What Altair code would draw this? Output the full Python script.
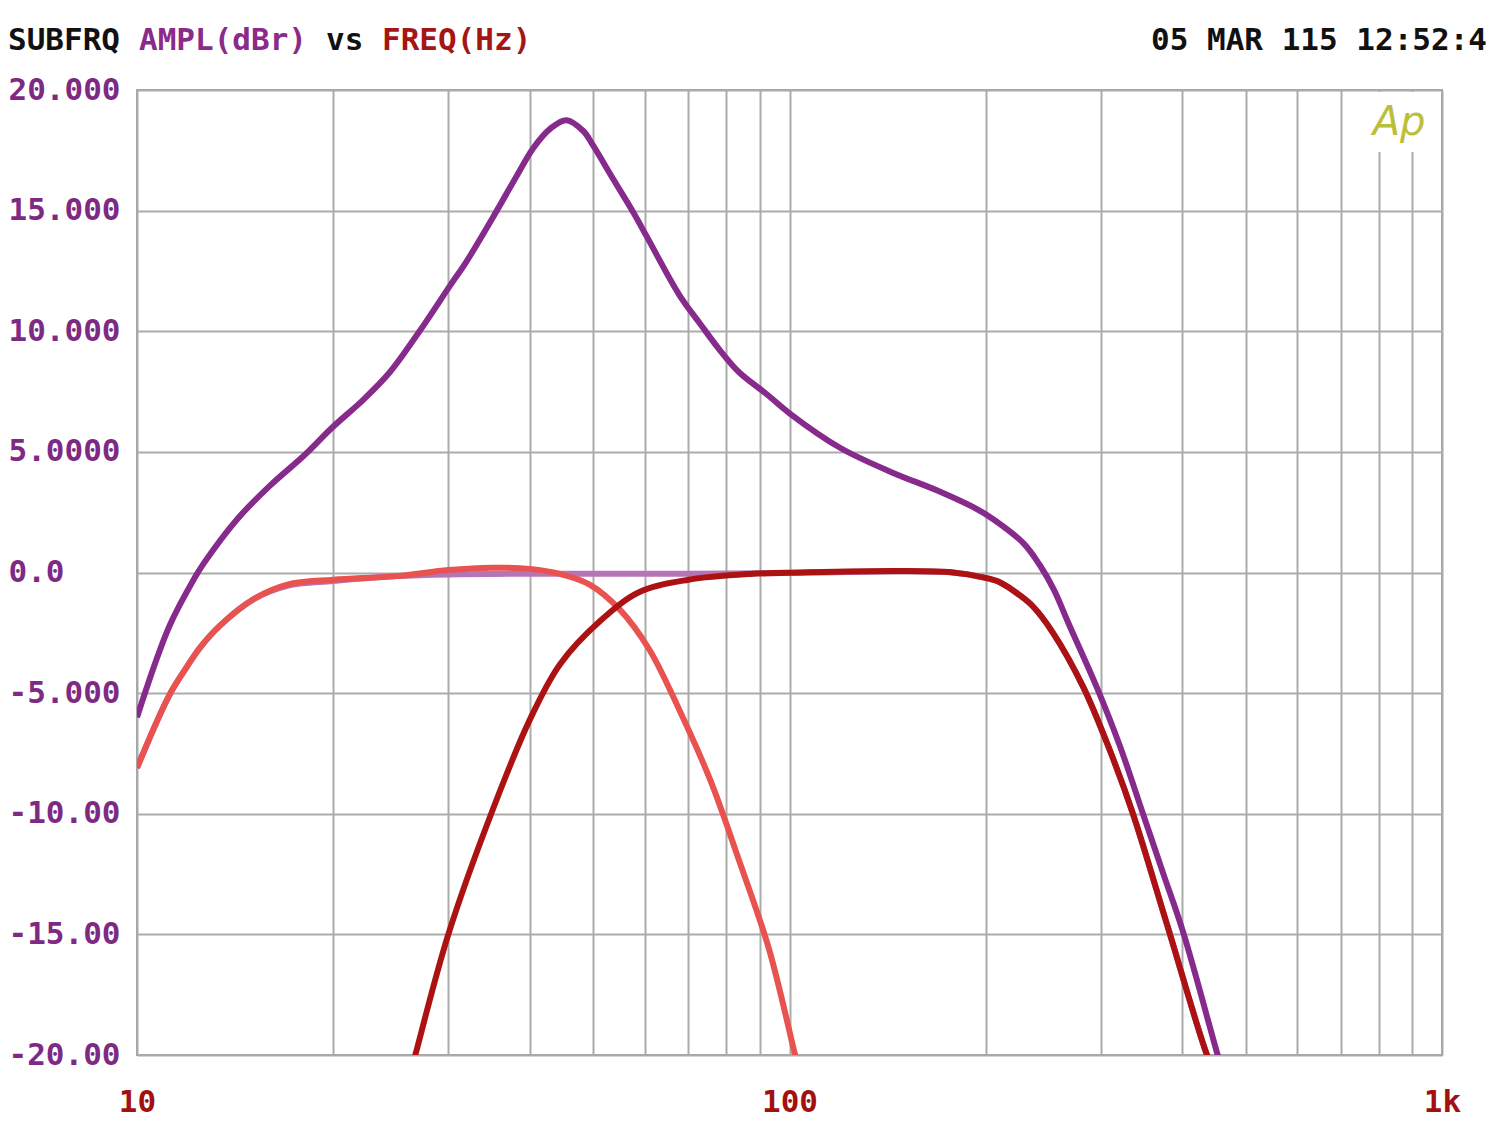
import altair as alt
import pandas as pd

# ---- data ----
purple_f = [10, 11.2, 12.27, 12.67, 14.23, 15.99, 18.03, 19.9, 22.3, 24.4, 27.1, 30.2,
            32.0, 35.6, 38.3, 40.5, 43.0, 45.5, 48.3, 50.0, 53.7, 57.7, 60.5, 67.8,
            73, 78.3, 83.7, 92.2, 100, 119.7, 143, 170.5, 191.6, 205.5, 228.6, 242.0,
            254.4, 267.2, 295.7, 321, 348.1, 373.6, 401, 452, 470]
purple_db = [-6.0, -2.25, -0.2, 0.4, 2.2, 3.6, 4.85, 6.0, 7.2, 8.3, 10.0, 11.9,
             12.9, 15.0, 16.5, 17.6, 18.4, 18.75, 18.3, 17.7, 16.3, 14.9, 13.9, 11.5,
             10.3, 9.2, 8.3, 7.4, 6.6, 5.16, 4.17, 3.34, 2.7, 2.2, 1.2, 0.3,
             -0.73, -2.06, -4.75, -7.2, -10.0, -12.45, -14.9, -19.9, -21.5]

low_f = [10, 11.2, 11.93, 12.5, 13.4, 15.1, 17.0, 20, 25, 30, 35, 40, 44.5, 49.4, 55, 61,
         67.8, 75.6, 83.6, 93, 102, 106]
low_db = [-8.1, -5.1, -3.9, -3.1, -2.2, -1.1, -0.5, -0.3, -0.15, 0.1, 0.2, 0.15, -0.06,
          -0.5, -1.55, -3.2, -5.7, -8.6, -11.9, -15.6, -20.0, -21.8]

high_f = [25.3, 26.7, 30.0, 34.9, 40, 44.5, 51.3, 59, 70, 87, 104, 147, 178, 198, 210,
          225.6, 236, 253.4, 282, 310, 336, 379, 435, 455]
high_db = [-22.4, -20.0, -15.0, -10.0, -6.1, -3.8, -2.0, -0.8, -0.3, -0.06, 0.0, 0.06,
           0.0, -0.2, -0.4, -0.95, -1.4, -2.5, -4.75, -7.4, -10.0, -14.6, -19.9, -21.2]

sum_f = [10, 11.2, 11.93, 12.5, 13.4, 15.1, 17, 20, 25, 30, 40, 50, 60, 70, 90, 110, 150,
         178, 198, 210, 225.6, 236, 253.4, 282, 310, 336, 379, 435, 455]
sum_db = [-8.1, -5.1, -3.9, -3.1, -2.2, -1.1, -0.55, -0.35, -0.15, -0.08, -0.05, -0.05,
          -0.05, -0.05, -0.03, 0.0, 0.05, 0.0, -0.2, -0.4, -0.95, -1.4, -2.5, -4.75, -7.4,
          -10.0, -14.6, -19.9, -21.2]

y_ticks = [20, 15, 10, 5, 0, -5, -10, -15, -20]
y_labels = ["20.000", "15.000", "10.000", "5.0000", "0.0", "-5.000", "-10.00", "-15.00", "-20.00"]
x_grid = [10, 20, 30, 40, 50, 60, 70, 80, 90, 100, 200, 300, 400, 500, 600, 700, 800, 900, 1000]
x_label_vals = [10, 100, 1000]
x_labels = ["10", "100", "1k"]

FONT = "DejaVu Sans Mono"
PURPLE = "#862a8c"
LPURPLE = "#b674b6"
LRED = "#e8524f"
DRED = "#ad1212"
W, H = 1305, 965

y_expr = " : ".join([f"datum.value == {v} ? '{l}'" for v, l in zip(y_ticks, y_labels)]) + " : ''"
x_expr = " : ".join([f"datum.value == {v} ? '{l}'" for v, l in zip(x_label_vals, x_labels)]) + " : ''"

xscale = alt.Scale(type="log", domain=[10, 1000], nice=False)
yscale = alt.Scale(domain=[-20, 20], nice=False)

xaxis = alt.Axis(values=x_grid, labelExpr=x_expr, title=None, ticks=False, tickSize=0,
                 domain=False, grid=True, gridColor="#ababab", gridWidth=2,
                 labelFont=FONT, labelFontWeight="bold", labelFontSize=31, labelColor="#a31010",
                 labelPadding=47, labelBaseline="middle", labelOverlap=False, labelFlush=False)
yaxis = alt.Axis(values=y_ticks, labelExpr=y_expr, title=None, ticks=False, tickSize=0,
                 domain=False, grid=True, gridColor="#ababab", gridWidth=2,
                 labelFont=FONT, labelFontWeight="bold", labelFontSize=31, labelColor="#7e2a84",
                 labelAlign="left", labelPadding=129, labelOverlap=False, labelFlush=False)


def curve(f, db, color):
    df = pd.DataFrame({"f": f, "db": db})
    return alt.Chart(df).mark_line(color=color, strokeWidth=6, interpolate="catmull-rom",
                                   clip=True).encode(
        x=alt.X("f:Q", scale=xscale, axis=xaxis),
        y=alt.Y("db:Q", scale=yscale, axis=yaxis))


one = pd.DataFrame({"k": [0]})


def label(text, x, color, align="left"):
    return alt.Chart(one).mark_text(text=text, font=FONT, fontWeight="bold", fontSize=31,
                                    color=color, align=align, baseline="alphabetic").encode(
        x=alt.value(x), y=alt.value(-40))


mask = alt.Chart(one).mark_rect(color="white").encode(
    x=alt.value(1225), x2=alt.value(1300), y=alt.value(2), y2=alt.value(62))
logo = alt.Chart(one).mark_text(text="Ap", font="DejaVu Sans", fontStyle="italic",
                                fontSize=40, color="#b9bf3a", align="center",
                                baseline="alphabetic").encode(x=alt.value(1262), y=alt.value(45))

chart = alt.layer(
    curve(sum_f, sum_db, LPURPLE),
    curve(low_f, low_db, LRED),
    curve(high_f, high_db, DRED),
    curve(purple_f, purple_db, PURPLE),
    mask, logo,
    label("SUBFRQ", -129, "#111111"),
    label("AMPL(dBr)", 2, "#8a2b8a"),
    label("vs", 189, "#111111"),
    label("FREQ(Hz)", 245, "#a51515"),
    label("05 MAR 115 12:52:4", 1350, "#111111", align="right"),
).properties(
    width=W, height=H,
    background="white",
    autosize=alt.AutoSizeParams(type="none"),
    padding={"left": 129, "top": 82, "right": 50, "bottom": 62},
).configure_view(stroke="#a3a3a3", strokeWidth=2)

chart.save("out.html", embed_options={"renderer": "svg", "actions": False})
